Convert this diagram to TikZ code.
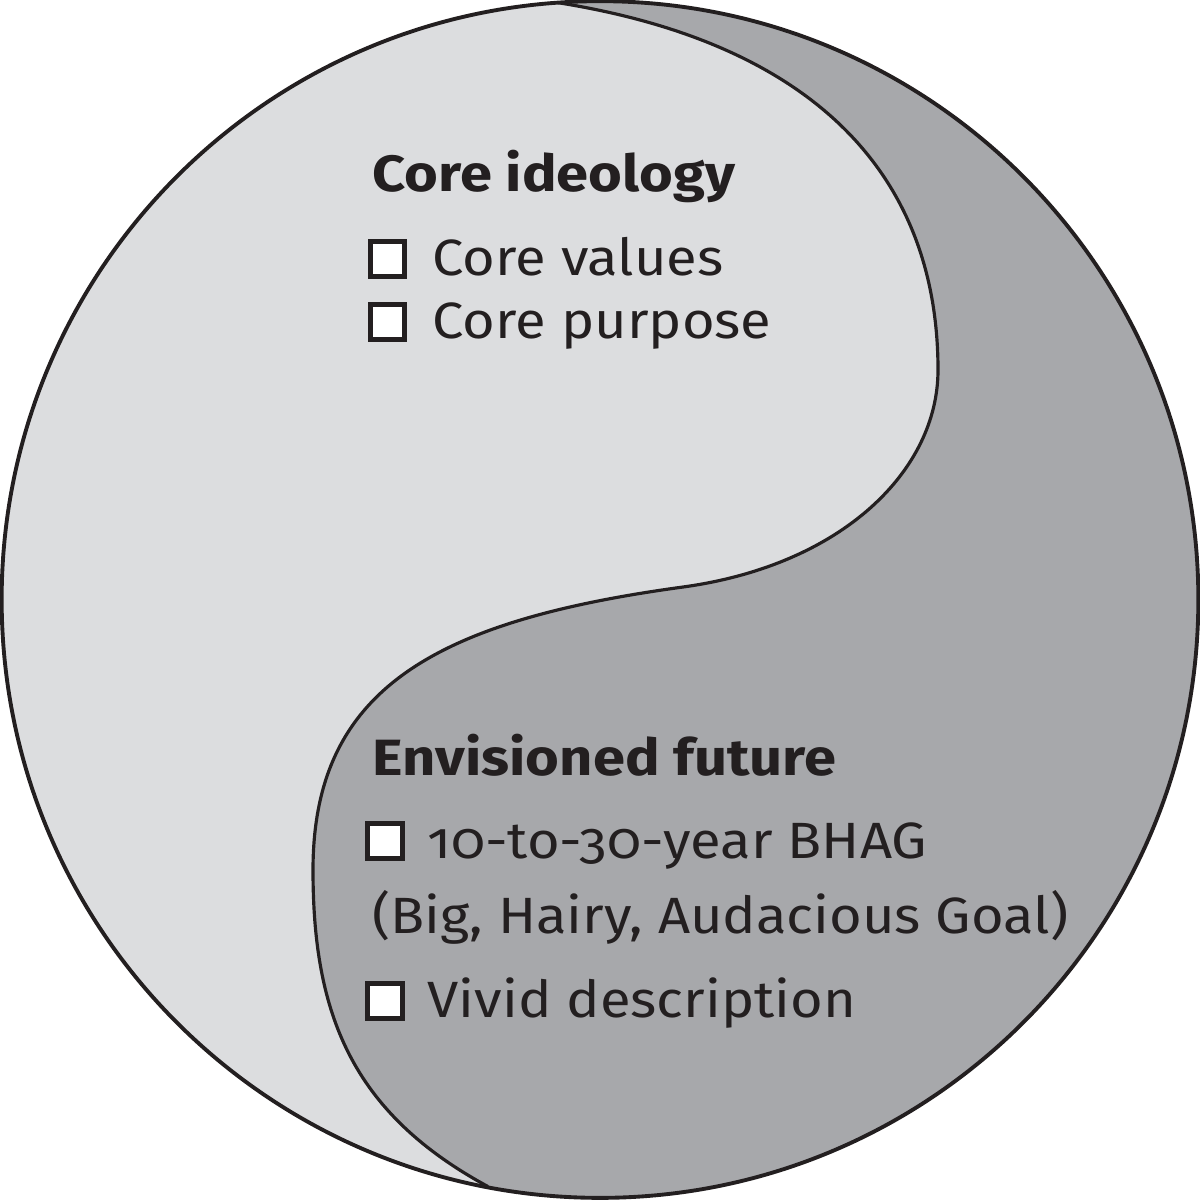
\documentclass[tikz,border=0pt]{standalone}
\usepackage{fontspec}
\setmainfont{Fira Sans}[Numbers=OldStyle, FakeStretch=1.1,
    BoldFeatures={FakeStretch=1.135}]
\definecolor{ideologygray}{RGB}{220,221,223}
\definecolor{futuregray}{RGB}{167,168,171}
\definecolor{inkblack}{RGB}{35,31,32}

\begin{document}
\begin{tikzpicture}[x=0.01cm, y=-0.01cm,
    heading/.style={anchor=base west, inner sep=0pt,
                    font=\fontsize{14.5}{17}\selectfont\bfseries,
                    text=inkblack},
    item/.style={anchor=base west, inner sep=0pt,
                 font=\fontsize{14.5}{17}\selectfont,
                 text=inkblack},
    checkbox/.style={rectangle, draw=inkblack, fill=white,
                     line width=1.3pt, minimum size=0.345cm,
                     inner sep=0pt},
    outline/.style={draw=inkblack, line width=1.1pt}
]
    \useasboundingbox (0,0) rectangle (1200,1199);
    \coordinate (centre) at (600,599.5);
    \coordinate (top) at (560,3);
    \coordinate (bottom) at (487,1186);

    % Zwei Hälften
    \begin{scope}
        \clip (centre) circle[radius=5.98cm];
        \fill[ideologygray] (centre) circle[radius=5.98cm];
        \filldraw[fill=futuregray, draw=inkblack, line width=0.9pt]
            (top) .. controls (820,45) and (938,180) .. (938,370)
            .. controls (938,470) and (843,565) .. (683,587)
            .. controls (433,621) and (313,690) .. (313,870)
            .. controls (313,1013) and (351,1112) .. (bottom)
            -- (487,1230) -- (1230,1230) -- (1230,-30) -- (560,-30) -- cycle;
    \end{scope}
    \draw[outline] (centre) circle[radius=5.98cm];

    % Kernideologie
    \node[heading] (ideology) at (372,191) {Core ideology};
    \node[checkbox] (valuesbox) at (387.5,259) {};
    \node[item] (values) at (432,275) {Core values};
    \node[checkbox] (purposebox) at (387.5,322) {};
    \node[item] (purpose) at (432,338) {Core purpose};

    % Zukunftsbild
    \node[heading] (future) at (372,775) {Envisioned future};
    \node[checkbox] (bhagbox) at (385,841) {};
    \node[item] (bhag) at (427,858) {10-to-30-year BHAG};
    \node[item] (bhaglong) at (372,933) {(Big, Hairy, Audacious Goal)};
    \node[checkbox] (vividbox) at (385,1001) {};
    \node[item] (vivid) at (427,1017) {Vivid description};

\end{tikzpicture}
\end{document}
